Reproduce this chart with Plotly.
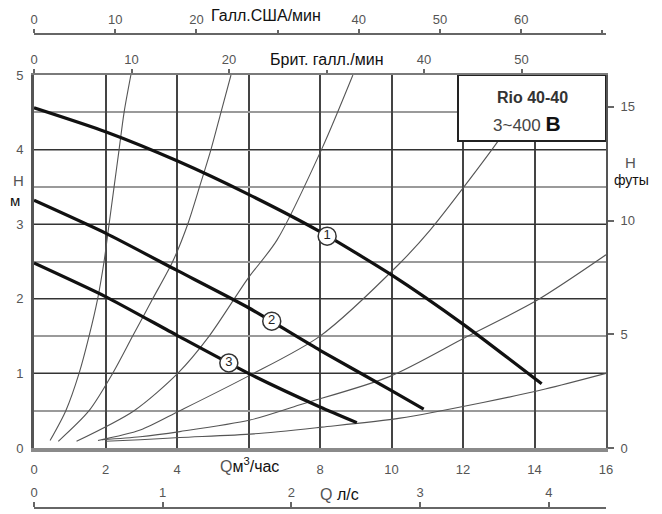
import plotly.graph_objects as go

# ---------------- data ----------------
# Pump curves: Q [m3/h], H [m]
pump1_q = [0, 2, 4, 6, 8, 10, 12, 14.2]
pump1_h = [4.56, 4.24, 3.85, 3.40, 2.90, 2.32, 1.66, 0.86]
pump2_q = [0, 2, 4, 6, 8, 10, 10.9]
pump2_h = [3.32, 2.88, 2.38, 1.88, 1.31, 0.77, 0.52]
pump3_q = [0, 2, 4, 6, 8, 9.03]
pump3_h = [2.48, 2.03, 1.51, 1.00, 0.55, 0.34]

curve_labels = ["1", "2", "3"]
label_q = [8.2, 6.65, 5.45]
label_h = [2.84, 1.70, 1.14]

# System curves (thin lines)
sysA_q = [0.45, 0.89, 1.26, 1.54, 1.78, 1.96, 2.10, 2.24, 2.38, 2.52, 2.71]
sysA_h = [0.10, 0.50, 1.00, 1.50, 2.00, 2.50, 3.00, 3.50, 4.00, 4.50, 5.00]
sysB_q = [0.68, 1.54, 2.20, 2.76, 3.32, 3.88, 4.30, 4.63, 4.95, 5.23, 5.51]
sysB_h = [0.09, 0.50, 1.00, 1.50, 2.00, 2.50, 3.00, 3.50, 4.00, 4.50, 5.00]
sysC_q = [1.19, 2.80, 4.02, 4.90, 5.98, 6.80, 8.06, 8.92]
sysC_h = [0.09, 0.50, 1.00, 1.50, 2.27, 2.79, 4.02, 5.00]
sysD_q = [1.79, 2.97, 4.08, 5.98, 8.00, 10.24, 11.08, 12.96, 13.3]
sysD_h = [0.10, 0.24, 0.50, 0.96, 1.50, 2.48, 2.92, 4.10, 4.35]
sysE_q = [1.90, 2.97, 4.08, 6.04, 7.44, 9.96, 12.10, 14.07, 16.0]
sysE_h = [0.11, 0.15, 0.22, 0.375, 0.58, 0.96, 1.49, 1.98, 2.59]
sysF_q = [2.00, 2.97, 4.08, 6.15, 8.05, 10.24, 12.56, 14.30, 16.0]
sysF_h = [0.09, 0.11, 0.14, 0.19, 0.28, 0.40, 0.61, 0.79, 1.00]

system_curves = [(sysA_q, sysA_h), (sysB_q, sysB_h), (sysC_q, sysC_h),
                 (sysD_q, sysD_h), (sysE_q, sysE_h), (sysF_q, sysF_h)]

# Axis ticks (the 6 / 30 positions carry the axis titles instead of numbers)
q_ticks = [0, 2, 4, 8, 10, 12, 14, 16]
ls_ticks = [0, 1, 2, 3, 4]
brit_ticks = [0, 10, 20, 40, 50]
us_ticks = [0, 10, 20, 40, 50, 60]
h_ticks = [0, 1, 2, 3, 4, 5]
ft_ticks = [0, 5, 10, 15]

Q_MAX = 16.0
H_MAX = 5.0
M3H_PER_LS = 3.6
M3H_PER_USGPM = 0.227125
M3H_PER_UKGPM = 0.272765
FT_PER_M = 3.28084

# ---------------- layout helpers (window pixel -> paper) ----------------
OFF = 8                      # page body margin
W, HGT = 662 - OFF, 514 - OFF
ML, MR, MT, MB = 34 - OFF, 56, 4, 2
PW = W - ML - MR
PH = HGT - MT - MB


def px(x):
    return (x - OFF - ML) / PW


def py(y):
    return (HGT - MB - (y - OFF)) / PH


PLOT_TOP, PLOT_BOTTOM = 75, 448
TICK_GRAY = "#555555"
FONT = "Liberation Sans, Arial, sans-serif"

fig = go.Figure()

for sq, sh in system_curves:
    fig.add_trace(go.Scatter(x=sq, y=sh, mode="lines", line=dict(color="#555555", width=1.1, shape="spline", smoothing=0.8),
                             hoverinfo="skip", showlegend=False))

for pq, ph in [(pump1_q, pump1_h), (pump2_q, pump2_h), (pump3_q, pump3_h)]:
    fig.add_trace(go.Scatter(x=pq, y=ph, mode="lines", line=dict(color="#111111", width=3.2, shape="spline", smoothing=0.6),
                             hoverinfo="skip", showlegend=False))

fig.add_trace(go.Scatter(x=label_q, y=label_h, mode="markers+text", text=curve_labels,
                         textposition="middle center",
                         textfont=dict(family=FONT, size=13, color="#222222"),
                         marker=dict(size=18, color="white", line=dict(color="#333333", width=1.5)),
                         hoverinfo="skip", showlegend=False, cliponaxis=False))

# invisible traces to activate the extra axes
fig.add_trace(go.Scatter(x=[0], y=[0], xaxis="x2", yaxis="y", mode="markers", marker=dict(opacity=0), showlegend=False, hoverinfo="skip"))
fig.add_trace(go.Scatter(x=[0], y=[0], xaxis="x3", yaxis="y", mode="markers", marker=dict(opacity=0), showlegend=False, hoverinfo="skip"))
fig.add_trace(go.Scatter(x=[0], y=[0], xaxis="x4", yaxis="y", mode="markers", marker=dict(opacity=0), showlegend=False, hoverinfo="skip"))
fig.add_trace(go.Scatter(x=[0], y=[0], xaxis="x", yaxis="y2", mode="markers", marker=dict(opacity=0), showlegend=False, hoverinfo="skip"))

y_dom = [py(PLOT_BOTTOM), py(PLOT_TOP)]
tickfont = dict(family=FONT, size=13, color=TICK_GRAY)

fig.update_layout(
    width=W, height=HGT,
    margin=dict(l=ML, r=MR, t=MT, b=MB, autoexpand=False),
    paper_bgcolor="white", plot_bgcolor="white",
    showlegend=False,
    xaxis=dict(domain=[0, 1], range=[0, Q_MAX], tickvals=q_ticks,
               showgrid=True, gridcolor="#444444", gridwidth=2, zeroline=False,
               showline=True, linecolor="#8a8a8a", linewidth=4, ticks="",
               minor=dict(tick0=0, dtick=2, showgrid=True, gridcolor="#444444", gridwidth=2, ticks=""),
               tickfont=tickfont, ticklabelstandoff=6, anchor="y", fixedrange=True, automargin=False),
    xaxis2=dict(overlaying="x", range=[0, Q_MAX / M3H_PER_LS], tickvals=ls_ticks,
                side="top", anchor="free", position=py(508),
                showgrid=False, zeroline=False, showline=True, linecolor="#666666", linewidth=1.5,
                ticks="outside", ticklen=5, tickcolor="#666666", tickwidth=1.5,
                tickfont=tickfont, fixedrange=True, automargin=False),
    xaxis3=dict(overlaying="x", range=[0, Q_MAX / M3H_PER_UKGPM], tickvals=brit_ticks,
                side="top", anchor="y", showgrid=False, zeroline=False, showline=True,
                linecolor="#7a7a7a", linewidth=2, ticks="outside", ticklen=4, tickcolor="#666666",
                tickwidth=1.5, minor=dict(tick0=0, dtick=10, ticks="outside", ticklen=3, tickcolor="#666666"),
                tickfont=tickfont, fixedrange=True, automargin=False),
    xaxis4=dict(overlaying="x", range=[0, Q_MAX / M3H_PER_USGPM], tickvals=us_ticks,
                side="top", anchor="free", position=py(34), showgrid=False, zeroline=False, showline=True,
                linecolor="#666666", linewidth=1.5, ticks="outside", ticklen=4, tickcolor="#666666",
                tickwidth=1.5, minor=dict(tick0=0, dtick=10, ticks="outside", ticklen=3, tickcolor="#666666"),
                tickfont=tickfont, fixedrange=True, automargin=False),
    yaxis=dict(domain=y_dom, range=[0, H_MAX], tickvals=h_ticks, showgrid=True, gridcolor="#333333",
               gridwidth=1.3, zeroline=False, showline=True, linecolor="#555555", linewidth=3,
               ticks="", tickfont=tickfont, ticklabelstandoff=5,
               minor=dict(dtick=0.5, showgrid=True, gridcolor="#9a9a9a", gridwidth=2),
               anchor="x", fixedrange=True, automargin=False),
    yaxis2=dict(overlaying="y", side="right", range=[0, H_MAX * FT_PER_M], tickvals=ft_ticks,
                showgrid=False, zeroline=False, showline=True, linecolor="#555555", linewidth=2,
                ticks="outside", ticklen=6, tickcolor="#666666", tickwidth=1.5,
                tickfont=tickfont, ticklabelstandoff=4, anchor="x", fixedrange=True, automargin=False),
)

# legend box (model name)
fig.add_shape(type="rect", xref="x", yref="y", x0=11.86, x1=Q_MAX, y0=4.115, y1=H_MAX,
              fillcolor="white", line=dict(color="#222222", width=2), layer="above")

ann = []


def add_text(text, x, y, size=15, color="#111111", xanchor="center", xref="paper", yref="paper"):
    ann.append(dict(text=text, x=x, y=y, xref=xref, yref=yref, showarrow=False,
                    xanchor=xanchor, yanchor="middle",
                    font=dict(family=FONT, size=size, color=color)))


add_text("<b>Rio 40-40</b>", px(532), py(97), size=16, color="#333333")
add_text("<span style='color:#444444'>3~400</span> <b><span style='font-size:21px'>В</span></b>", px(527), py(124), size=17)
add_text("Галл.США/мин", px(266), py(15), size=16)
add_text("Брит. галл./мин", px(327), py(60), size=16)
add_text("<span style='color:#555555'>Q</span>м<sup>3</sup>/час", px(249), py(465), size=16)
add_text("<span style='color:#555555'>Q</span> л/с", px(339), py(494), size=16)
add_text("<span style='color:#555555'>Н</span>", px(18), py(181), size=15)
add_text("м", px(15), py(200), size=15)
add_text("<span style='color:#555555'>Н</span>", px(630), py(162), size=15)
add_text("футы", px(631), py(180), size=14)

fig.update_layout(annotations=ann)

fig.write_html("out.html")
